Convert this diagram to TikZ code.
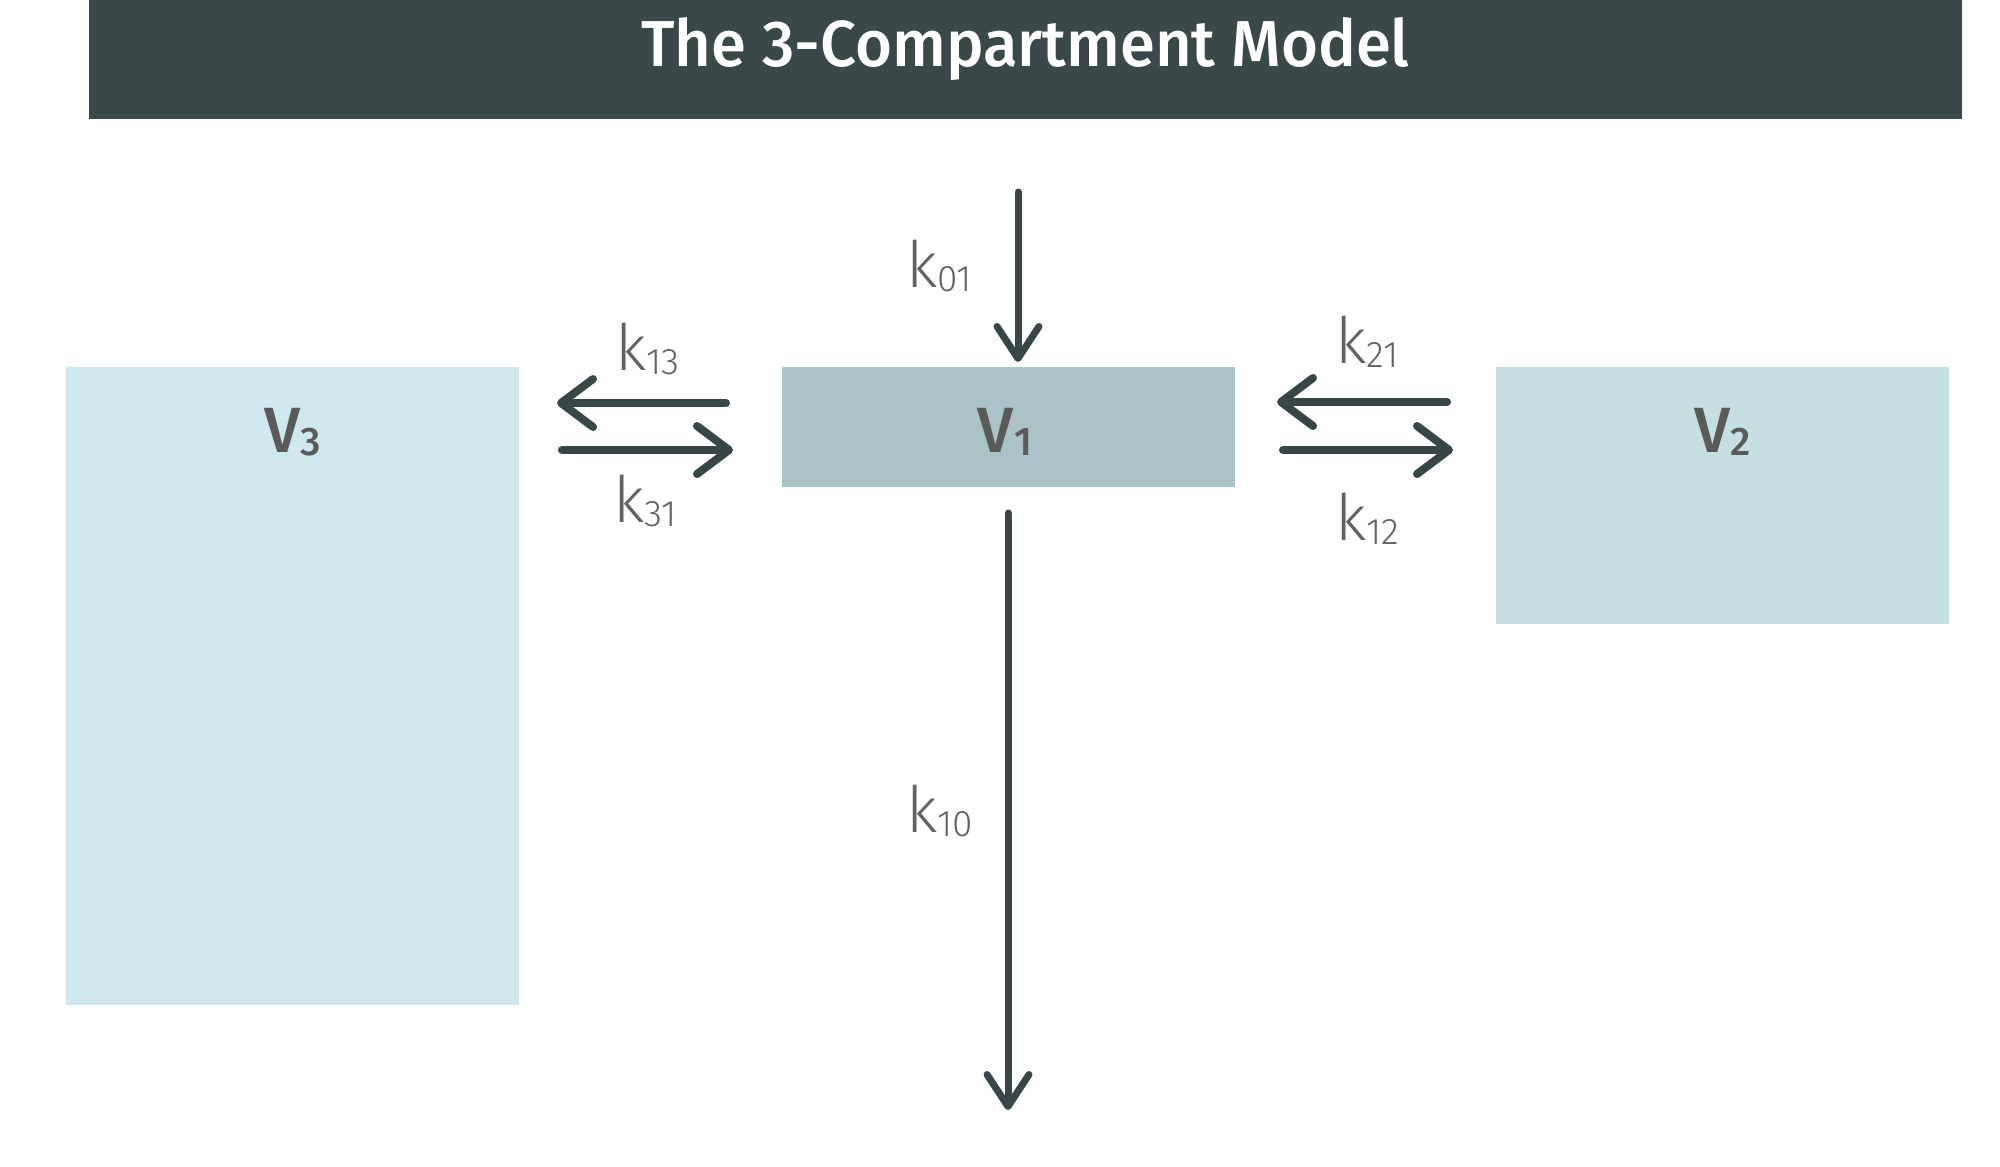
\documentclass[tikz,border=0pt]{standalone}
\usepackage{fontspec}
\setmainfont{Fira Sans}
\newfontfamily\titlefont{Fira Sans Medium}[FakeStretch=0.975]
\newfontfamily\vfont{Fira Sans Medium}
\newfontfamily\klight{Fira Sans Light}
\usetikzlibrary{arrows.meta,calc}
\definecolor{barcol}{HTML}{3A4849}
\definecolor{vthree}{HTML}{CFE8EE}
\definecolor{vone}{HTML}{ABC3C7}
\definecolor{vtwo}{HTML}{C5DFE3}
\definecolor{txtcol}{HTML}{5A5A5A}
\definecolor{ktxt}{HTML}{626262}
\definecolor{arrcol}{HTML}{384647}
\newcommand{\ksub}[1]{k\raisebox{-4pt}{\fontsize{37}{37}\selectfont #1}}
\begin{document}
\begin{tikzpicture}[x=1pt,y=-1pt,
  box/.style={draw=none, inner sep=0pt, outer sep=0pt, anchor=north west},
  vlab/.style={text=txtcol, inner sep=0pt, anchor=base, font=\vfont\fontsize{64}{64}\selectfont},
  klab/.style={text=ktxt, inner sep=0pt, anchor=base west, font=\klight\fontsize{64}{64}\selectfont},
  arr/.style={draw=arrcol, line width=8pt, line cap=round,
    -{Straight Barb[length=32pt, width=48pt, round]}},
  varr/.style={draw=arrcol, line width=7pt, line cap=round,
    -{Straight Barb[length=32pt, width=42pt, round]}}
]
\useasboundingbox (0,0) rectangle (2000,1167);
% title bar
\node[box, fill=barcol, minimum width=1873pt, minimum height=119pt] (bar) at (89,0) {};
\node[anchor=base, text=white, inner sep=0pt, font=\titlefont\fontsize{65}{65}\selectfont] (title) at (1025.5,66) {The 3-Compartment Model};
% compartments
\node[box, fill=vthree, minimum width=453pt, minimum height=638pt] (V3) at (66,367) {};
\node[box, fill=vone, minimum width=453pt, minimum height=120pt] (V1) at (782,367) {};
\node[box, fill=vtwo, minimum width=453pt, minimum height=257pt] (V2) at (1496,367) {};
\node[vlab] (l3) at (292.5,452) {V\raisebox{-3pt}{\fontsize{40}{40}\selectfont 3}};
\node[vlab] (l1) at (1005,452) {V\raisebox{-3pt}{\fontsize{40}{40}\selectfont 1}};
\node[vlab] (l2) at (1723,452) {V\raisebox{-3pt}{\fontsize{40}{40}\selectfont 2}};
% rate labels
\node[klab] (k13) at (615,370) {\ksub{13}};
\node[klab] (k31) at (613,522) {\ksub{31}};
\node[klab] (k21) at (1335,363) {\ksub{21}};
\node[klab] (k12) at (1335,540) {\ksub{12}};
\node[klab] (k01) at (906,287) {\ksub{01}};
\node[klab] (k10) at (906,832) {\ksub{10}};
% connectors
\coordinate (src) at (1018,192);
\coordinate (sink) at (1008,1110);
\draw[arr] ($(V1.north west)+(-56,36)$) -- ($(V3.north east)+(38,36)$);
\draw[arr] ($(V3.north east)+(43,83)$) -- ($(V1.north west)+(-49,83)$);
\draw[arr] ($(V2.north west)+(-49,35)$) -- ($(V1.north east)+(42,35)$);
\draw[arr] ($(V1.north east)+(48,83)$) -- ($(V2.north west)+(-43,83)$);
\draw[varr] (src) -- ($(V1.north)+(9.5,-5)$);
\draw[varr] ($(V1.south)+(-0.5,26)$) -- (sink);
\end{tikzpicture}
\end{document}
